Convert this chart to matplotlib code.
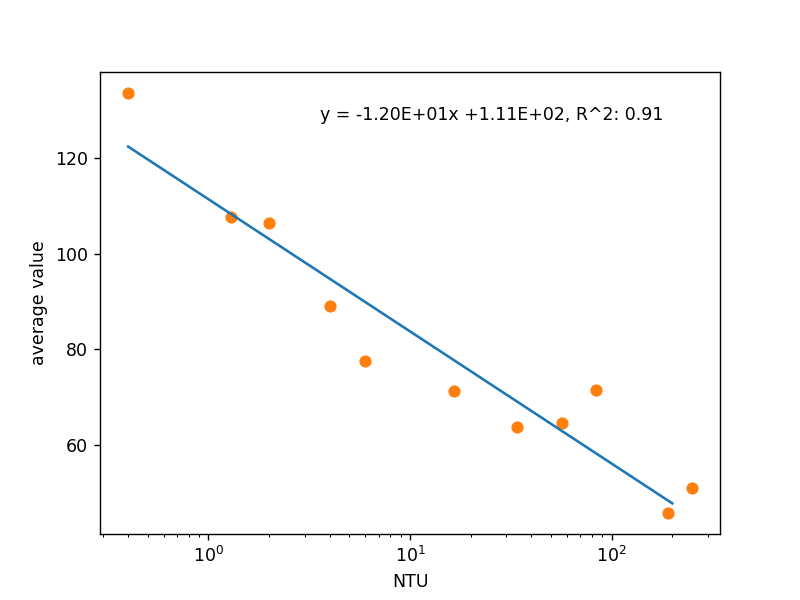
import numpy as np
import matplotlib.pyplot as plt

# measured NTU vs average value
ntu = np.array([0.4, 1.3, 2.0, 4.0, 6.0, 16.5, 34.0, 57.0, 84.0, 190.0, 250.0])
avg = np.array([133.6, 107.7, 106.5, 89.1, 77.5, 71.4, 63.7, 64.7, 71.6, 45.8, 51.1])

# fitted log curve y = a*ln(x) + b
slope = -12.0
intercept = 111.4
x_fit = np.array([0.4, 200.0])
label = 'y = -1.20E+01x +1.11E+02, R^2: 0.91'

fig = plt.figure(figsize=(6.4, 4.8), dpi=125)
ax = fig.add_subplot(111)
ax.plot(x_fit, slope*np.log(x_fit) + intercept, 'C0-')
ax.scatter(ntu, avg, color='C1')
ax.set_xscale('log')
ax.set_xlabel('NTU')
ax.set_ylabel('average value')
ax.text(0.355, 0.907, label, transform=ax.transAxes, va='center')

plt.savefig('out.png')
